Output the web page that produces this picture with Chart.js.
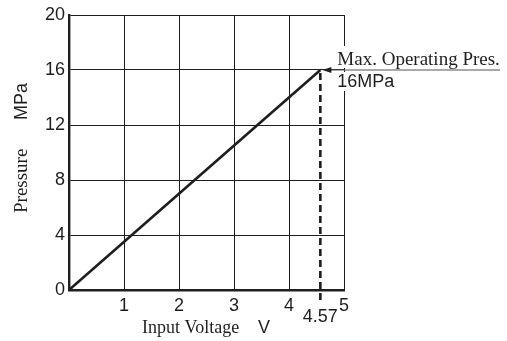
<!DOCTYPE html>
<html>
<head>
<meta charset="utf-8">
<script src="https://cdn.jsdelivr.net/npm/chart.js@4/dist/chart.umd.min.js"></script>
<style>
  html, body { margin: 0; padding: 0; background: #fff; }
  canvas { display: block; }
</style>
</head>
<body>
<canvas id="chart" width="507" height="341"></canvas>
<script>
// Pressure response of the regulator vs. command voltage
const voltage = [0, 4.57];
const pressure = [0, 16];
const maxVoltage = 4.57;
const maxPressure = 16;
const xTicks = [0, 1, 2, 3, 4, 5];
const yTicks = [0, 4, 8, 12, 16, 20];

const SANS = '"Liberation Sans", Arial, Helvetica, sans-serif';
const SERIF = '"Liberation Serif", "Times New Roman", serif';
const INK = '#1e1e1e';

// Extra labels: dashed drop line, annotation arrow, axis titles in mixed faces
const annotations = {
  id: 'annotations',
  afterDatasetsDraw(chart) {
    const { ctx, scales: { x, y }, chartArea } = chart;
    const px = x.getPixelForValue(maxVoltage);
    const py = y.getPixelForValue(maxPressure);
    ctx.save();

    // dashed drop line from the rated point past the axis
    ctx.strokeStyle = INK;
    ctx.lineWidth = 2.6;
    ctx.setLineDash([7, 4]);
    ctx.beginPath();
    ctx.moveTo(px, py + 3);
    ctx.lineTo(px, chartArea.bottom + 12);
    ctx.stroke();
    ctx.setLineDash([]);

    // label text with white backing
    ctx.textBaseline = 'alphabetic';
    ctx.textAlign = 'left';
    ctx.font = '19px ' + SERIF;
    const t1 = 'Max. Operating Pres.';
    const w1 = ctx.measureText(t1).width;
    ctx.fillStyle = '#fff';
    ctx.fillRect(px + 15, py - 24, w1 + 4, 22);
    ctx.font = '18px ' + SANS;
    const t2 = '16MPa';
    const w2 = ctx.measureText(t2).width;
    ctx.fillRect(px + 15, py + 2, w2 + 4, 19);

    ctx.fillStyle = INK;
    ctx.font = '19px ' + SERIF;
    ctx.fillText(t1, px + 17, py - 5);
    ctx.font = '18px ' + SANS;
    ctx.fillText(t2, px + 17, py + 17);

    // leader line with arrowhead
    ctx.strokeStyle = '#555';
    ctx.lineWidth = 1.2;
    ctx.beginPath();
    ctx.moveTo(500, py);
    ctx.lineTo(px + 8, py);
    ctx.stroke();
    ctx.fillStyle = INK;
    ctx.beginPath();
    ctx.moveTo(px + 2, py);
    ctx.lineTo(px + 11, py - 3);
    ctx.lineTo(px + 11, py + 3);
    ctx.closePath();
    ctx.fill();

    // voltage marker under the axis
    ctx.font = '18px ' + SANS;
    ctx.textAlign = 'center';
    ctx.textBaseline = 'middle';
    ctx.fillStyle = INK;
    ctx.fillText('4.57', px, chartArea.bottom + 27);

    // x axis title
    ctx.textAlign = 'left';
    ctx.textBaseline = 'alphabetic';
    ctx.font = '18px ' + SERIF;
    ctx.fillText('Input Voltage', 142, 333);
    ctx.font = '18px ' + SANS;
    ctx.fillText('V', 258, 333);

    // y axis title (rotated, reading upward)
    ctx.translate(27, 0);
    ctx.rotate(-Math.PI / 2);
    ctx.font = '19px ' + SERIF;
    ctx.fillText('Pressure', -213, 0);
    ctx.font = '18px ' + SANS;
    ctx.fillText('MPa', -120, 0);
    ctx.restore();
  }
};

new Chart(document.getElementById('chart'), {
  type: 'scatter',
  data: {
    datasets: [{
      data: voltage.map((v, i) => ({ x: v, y: pressure[i] })),
      showLine: true,
      borderColor: INK,
      borderWidth: 2.6,
      pointRadius: 0,
      fill: false
    }]
  },
  options: {
    responsive: false,
    animation: false,
    layout: { padding: { left: 0, top: 15, right: 163, bottom: 0 } },
    plugins: { legend: { display: false }, tooltip: { enabled: false } },
    scales: {
      x: {
        type: 'linear',
        min: 0, max: 5,
        afterBuildTicks(s) { s.ticks = xTicks.map(v => ({ value: v })); },
        afterFit(s) { s.height = 51; },
        grid: { color: INK, lineWidth: 1, drawTicks: false },
        border: { display: true, color: INK, width: 2.4 },
        ticks: {
          padding: 5,
          color: INK,
          font: { family: SANS, size: 18 },
          callback: v => (v === 0 ? '' : String(v))
        }
      },
      y: {
        type: 'linear',
        min: 0, max: 20,
        afterBuildTicks(s) { s.ticks = yTicks.map(v => ({ value: v })); },
        afterFit(s) { s.width = 69; },
        grid: { color: INK, lineWidth: 1, drawTicks: false },
        border: { display: true, color: INK, width: 2.4 },
        ticks: {
          padding: 4,
          color: INK,
          font: { family: SANS, size: 18 },
          callback: v => String(v)
        }
      }
    }
  },
  plugins: [annotations]
});
</script>
</body>
</html>
